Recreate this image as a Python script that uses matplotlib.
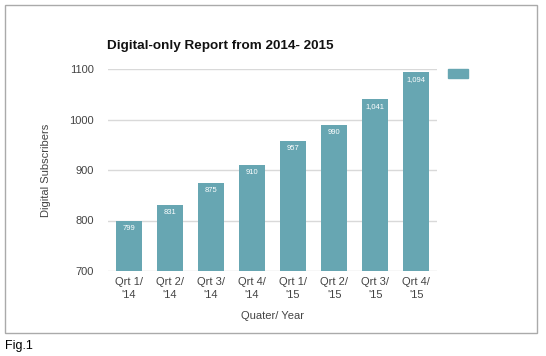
import matplotlib.pyplot as plt
from matplotlib.patches import Rectangle

quarters = ["Qrt 1/\n'14", "Qrt 2/\n'14", "Qrt 3/\n'14", "Qrt 4/\n'14",
            "Qrt 1/\n'15", "Qrt 2/\n'15", "Qrt 3/\n'15", "Qrt 4/\n'15"]
subscribers = [799, 831, 875, 910, 957, 990, 1041, 1094]
yticks = [700, 800, 900, 1000, 1100]

bar_color = "#67a6b2"
text_color = "#444444"

plt.rcParams['font.family'] = ['Liberation Sans', 'DejaVu Sans']

fig = plt.figure(figsize=(5.46, 3.56), dpi=100)
W, H = 546, 356
ax = fig.add_axes([108 / W, 1 - 271 / H, (437 - 108) / W, (271 - 69) / H])

x = range(len(quarters))
bars = ax.bar(x, subscribers, width=0.63, color=bar_color, zorder=3)
for b, v in zip(bars, subscribers):
    ax.annotate(f"{v:,}", (b.get_x() + b.get_width() / 2, v),
                xytext=(0, -3), textcoords="offset points",
                ha="center", va="top", color="white", fontsize=5.5, zorder=4)

ax.set_xlim(-0.5, len(quarters) - 0.5)
ax.set_ylim(700, 1100)
ax.set_yticks(yticks)
ax.set_xticks(list(x))
ax.set_xticklabels(quarters, fontsize=8, color=text_color, linespacing=1.45)
ax.tick_params(axis="y", labelsize=8, labelcolor=text_color, length=0, pad=10)
ax.tick_params(axis="x", length=0, pad=4)
ax.grid(axis="y", color="#d9d9d9", linewidth=1, zorder=0)
for s in ax.spines.values():
    s.set_visible(False)

ax.set_ylabel("Digital Subscribers", fontsize=8, color=text_color, labelpad=13)
ax.set_xlabel("Quater/ Year", fontsize=8, color=text_color, labelpad=8)

fig.text(107 / W, 1 - 46 / H, "Digital-only Report from 2014- 2015",
         fontsize=9.7, fontweight="bold", color="#111111", va="center", ha="left")

# legend swatch without text
fig.patches.append(Rectangle((448 / W, 1 - 78 / H), 20 / W, 9 / H,
                             transform=fig.transFigure, color=bar_color))

# outer frame
fig.patches.append(Rectangle((5 / W, 1 - 333 / H), 532 / W, 328 / H,
                             transform=fig.transFigure, fill=False,
                             edgecolor="#aaaaaa", linewidth=1))

fig.text(5 / W, 1 - 346 / H, "Fig.1", fontsize=9, color="black",
         va="center", ha="left")

fig.savefig("out.png", dpi=100)
